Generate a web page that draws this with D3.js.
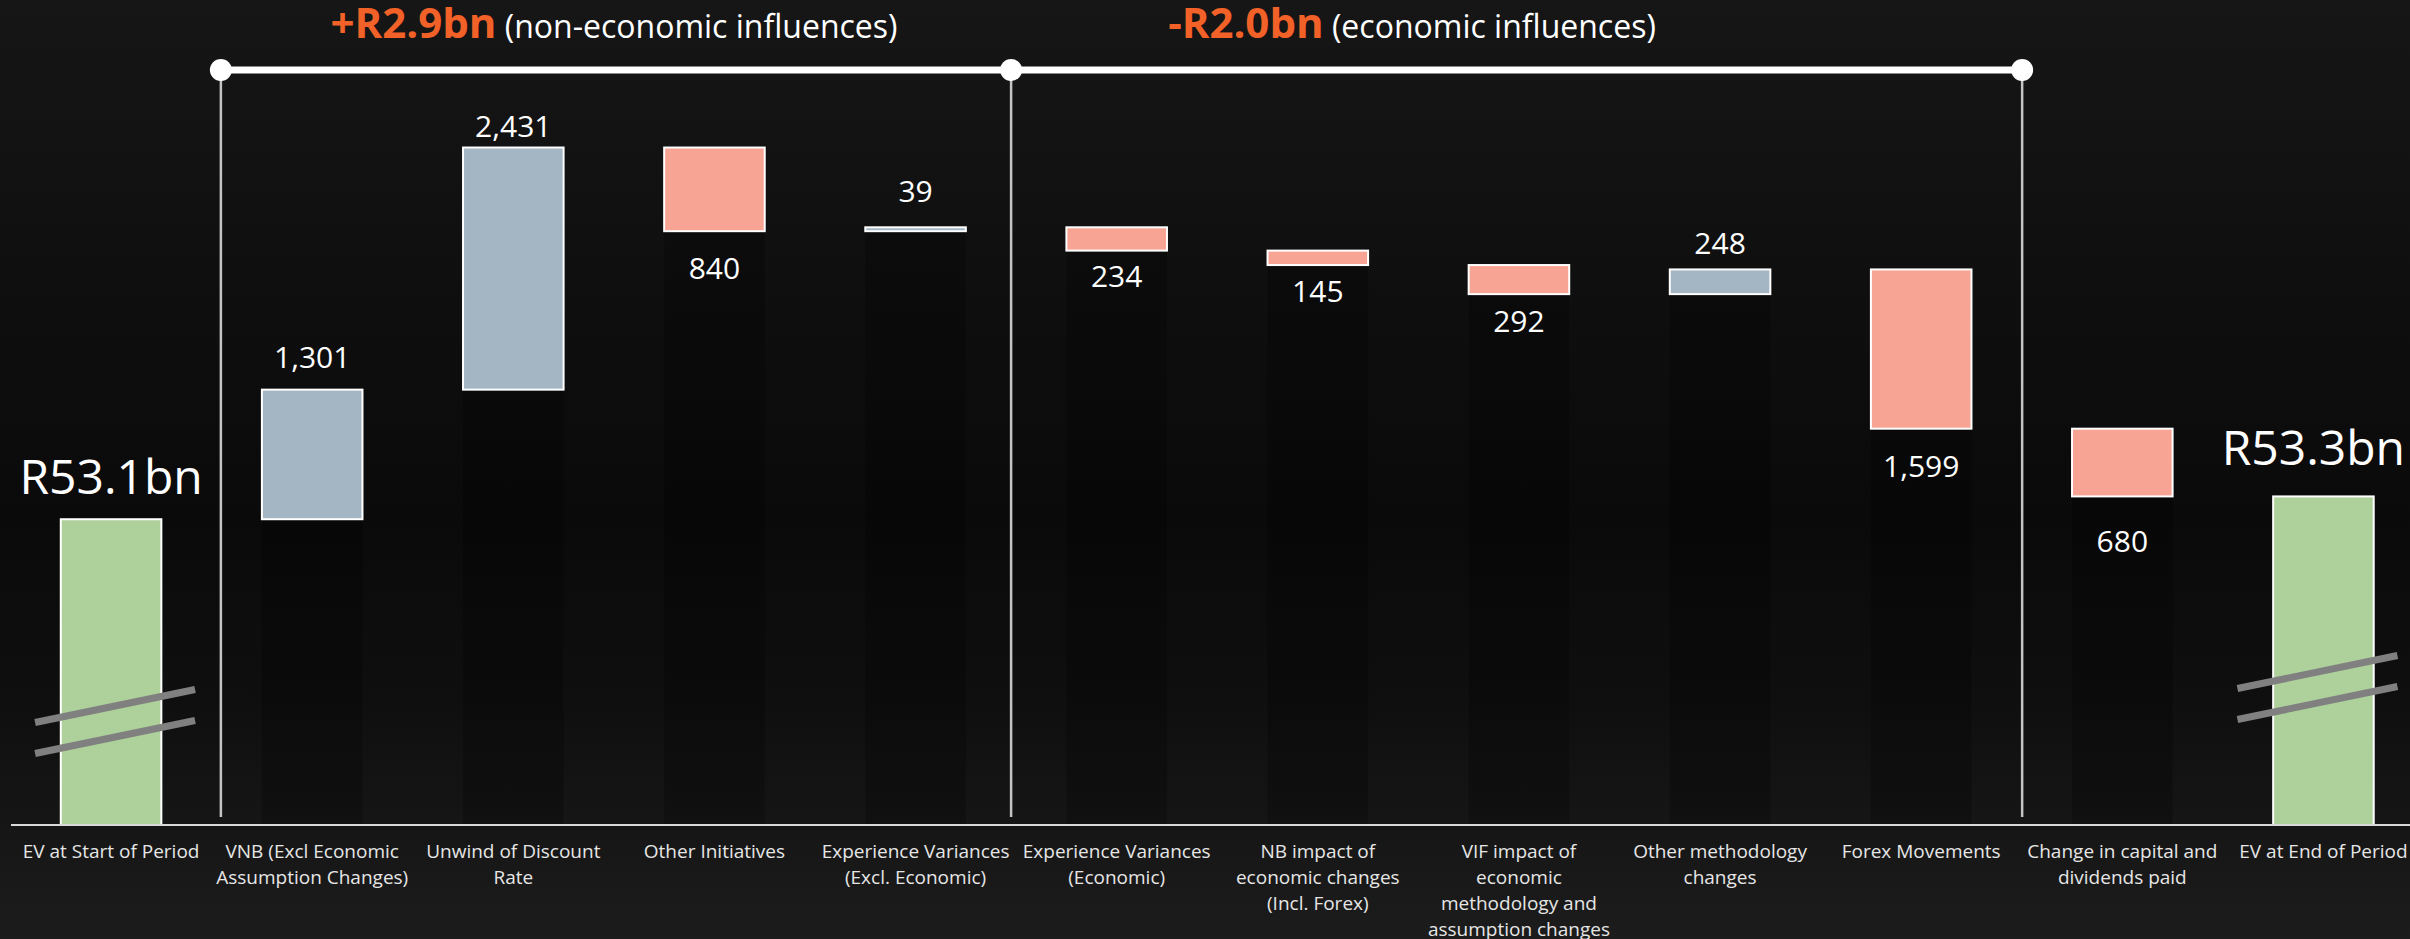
<!DOCTYPE html>
<html>
<head>
<meta charset="utf-8">
<title>Embedded value movement</title>
<script src="https://cdn.jsdelivr.net/npm/d3@7/dist/d3.min.js"></script>
<style>
  html, body { margin: 0; padding: 0; background: #0e0e0e; overflow: hidden; }
  svg { display: block; }
  text { font-family: "Open Sans", "Noto Sans", sans-serif; }
</style>
</head>
<body>
<svg id="chart"></svg>
<script>
// ---- data (R million) -------------------------------------------------
const categories = [
  "EV at Start of Period",
  "VNB (Excl Economic\nAssumption Changes)",
  "Unwind of Discount\nRate",
  "Other Initiatives",
  "Experience Variances\n(Excl. Economic)",
  "Experience Variances\n(Economic)",
  "NB impact of\neconomic changes\n(Incl. Forex)",
  "VIF impact of\neconomic\nmethodology and\nassumption changes",
  "Other methodology\nchanges",
  "Forex Movements",
  "Change in capital and\ndividends paid",
  "EV at End of Period"
];
// first entry is the opening total, the rest are movements; closing total is summed
const openingValue = 53070;
const movements = [1301, 2431, -840, 39, -234, -145, -292, 248, -1599, -680];

// groups of movements bracketed above the bars (indices into categories)
const groupNotes = ["(non-economic influences)", "(economic influences)"];
const groupRanges = [[1, 4], [5, 9]];

// ---- layout -----------------------------------------------------------
const W = 2410, H = 939;
const baseY = 825;
const axisFloor = 50000;              // broken axis: bars start here
const pxPerUnit = 0.0996;
// gap between bar edge and its value label baseline
const labelGap = [25, 22, 11, 48, 25, 36, 37, 38, 15, 48, 56, 31];
// break marks on the total bars: [category index, x shift, height above axis]
const breakMarks = [[0, 4, 119], [11, -6, 153]];
// bracket tick positions: [category index, fraction of a step to the right]
const bracketTicks = [[0, 0.546], [4, 0.475], [9, 0.502]];
const headerX = [614, 1412];

const colors = { total: "#aed09a", up: "#a4b6c4", down: "#f8a494", accent: "#f26128" };

// ---- build waterfall rows --------------------------------------------
const rows = [];
let running = openingValue;
rows.push({ name: categories[0], kind: "total", start: axisFloor, end: openingValue, value: openingValue });
movements.forEach((m, i) => {
  const s = running;
  running += m;
  rows.push({ name: categories[i + 1], kind: m >= 0 ? "up" : "down", start: s, end: running, value: m });
});
rows.push({ name: categories[11], kind: "total", start: axisFloor, end: running, value: running });

const svg = d3.select("#chart").attr("width", W).attr("height", H);

// background
const defs = svg.append("defs");
const grad = defs.append("linearGradient").attr("id", "bg").attr("x1", 0).attr("y1", 0).attr("x2", 0).attr("y2", 1);
[[0, "#161616"], [0.3, "#0f0f0f"], [0.55, "#0a0a0a"], [0.75, "#0f0f0f"], [1, "#1c1c1c"]]
  .forEach(([o, c]) => grad.append("stop").attr("offset", o).attr("stop-color", c));
svg.append("rect").attr("width", W).attr("height", H).attr("fill", "url(#bg)");

// scales
const x = d3.scaleBand()
  .domain(rows.map(d => d.name))
  .range([10.5, 2424])
  .paddingInner(0.5)
  .paddingOuter(0.25);
const y = d3.scaleLinear()
  .domain([axisFloor, 58000])
  .range([baseY, baseY - (58000 - axisFloor) * pxPerUnit]);
const cx = i => x(rows[i].name) + x.bandwidth() / 2;

// hidden base columns under the floating bars
svg.append("g").selectAll("rect")
  .data(rows.filter(d => d.kind !== "total"))
  .join("rect")
  .attr("x", d => x(d.name))
  .attr("width", x.bandwidth())
  .attr("y", d => y(Math.min(d.start, d.end)))
  .attr("height", d => baseY - y(Math.min(d.start, d.end)))
  .attr("fill", "#000")
  .attr("opacity", 0.22);

// bars
svg.append("g").selectAll("rect")
  .data(rows)
  .join("rect")
  .attr("x", d => x(d.name))
  .attr("width", x.bandwidth())
  .attr("y", d => y(Math.max(d.start, d.end)))
  .attr("height", d => Math.abs(y(d.start) - y(d.end)))
  .attr("fill", d => colors[d.kind])
  .attr("stroke", "#ffffff")
  .attr("stroke-width", 2);

// break marks on the total bars
const bm = svg.append("g").attr("stroke", "#808080").attr("stroke-width", 7);
breakMarks.forEach(([i, dx, h]) => {
  const c = cx(i) + dx;
  [0, 31].forEach(off => {
    bm.append("line")
      .attr("x1", c - 80).attr("y1", baseY - h + off + 16.5)
      .attr("x2", c + 80).attr("y2", baseY - h + off - 16.5);
  });
});

// axis line
svg.append("line")
  .attr("x1", 11).attr("x2", W).attr("y1", baseY).attr("y2", baseY)
  .attr("stroke", "#d9d9d9").attr("stroke-width", 2);

// value labels
const fmt = d3.format(",");
const vl = svg.append("g").attr("fill", "#ffffff").attr("text-anchor", "middle");
rows.forEach((d, i) => {
  const isTotal = d.kind === "total";
  const above = isTotal || d.kind === "up";
  const top = y(Math.max(d.start, d.end));
  const bottom = y(Math.min(d.start, d.end));
  const t = vl.append("text")
    .attr("x", cx(i))
    .attr("y", above ? top - labelGap[i] : bottom + labelGap[i])
    .attr("font-size", isTotal ? 48 : 30)
    .text(isTotal ? "R" + (d.value / 1000).toFixed(1) + "bn" : fmt(Math.abs(d.value)));
  // keep labels inside the canvas
  const bb = t.node().getBBox();
  if (bb.x + bb.width > W - 5) t.attr("x", cx(i) - (bb.x + bb.width - (W - 5)));
});

// category labels
const cl = svg.append("g").attr("fill", "#e6e6e6").attr("text-anchor", "middle").attr("font-size", 19);
rows.forEach((d, i) => {
  const t = cl.append("text").attr("x", cx(i)).attr("y", 858);
  d.name.split("\n").forEach((line, k) => {
    t.append("tspan").attr("x", cx(i)).attr("dy", k === 0 ? 0 : 26).text(line);
  });
});

// brackets
const tickX = bracketTicks.map(([i, f]) => cx(i) + f * x.step());
const br = svg.append("g");
tickX.forEach(tx => {
  br.append("line").attr("x1", tx).attr("x2", tx).attr("y1", 70).attr("y2", 817)
    .attr("stroke", "#c4c4c4").attr("stroke-width", 2.5);
});
br.append("line").attr("x1", tickX[0]).attr("x2", tickX[tickX.length - 1]).attr("y1", 70).attr("y2", 70)
  .attr("stroke", "#ffffff").attr("stroke-width", 7);
tickX.forEach(tx => {
  br.append("circle").attr("cx", tx).attr("cy", 70).attr("r", 11).attr("fill", "#ffffff");
});

// group headers with their summed movement
groupRanges.forEach(([a, b], g) => {
  const sum = d3.sum(rows.slice(a, b + 1), d => d.value);
  const head = (sum >= 0 ? "+" : "-") + "R" + (Math.abs(sum) / 1000).toFixed(1) + "bn";
  const t = svg.append("text").attr("x", headerX[g]).attr("y", 38).attr("text-anchor", "middle");
  t.append("tspan").attr("font-size", 42).attr("font-weight", 700).attr("fill", colors.accent).text(head);
  t.append("tspan").attr("font-size", 32).attr("fill", "#ffffff").text(" " + groupNotes[g]);
});
</script>
</body>
</html>
